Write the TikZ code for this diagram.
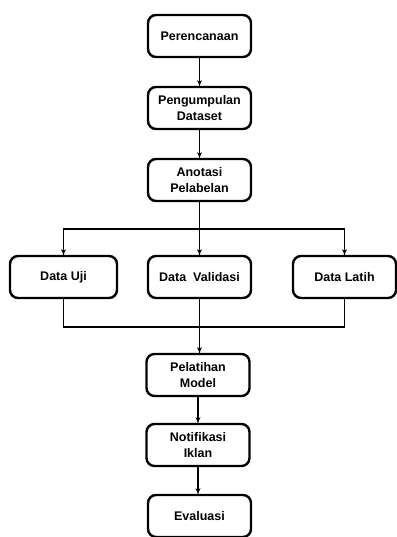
\documentclass[tikz,border=0pt]{standalone}
\usepackage{fontspec}
\setmainfont{Liberation Sans}
\usetikzlibrary{shapes,arrows,positioning,calc}

\begin{document}
\begin{tikzpicture}[x=1pt, y=1pt, node distance=28pt, >=latex',
    every text node part/.style={align=center},
    box/.style={draw, rectangle, rounded corners=8pt, line width=2.4pt, minimum width=103pt, minimum height=42pt, inner sep=2pt, outer sep=0pt, font=\fontsize{12.5}{16}\selectfont\bfseries},
    link/.style={line width=1.3pt}]
    \useasboundingbox (0,0) rectangle (396,-537);

    \node [box] (p1) at (199.5,-36) {Perencanaan};
    \node [box] (p2) at (199.5,-108) {Pengumpulan\\Dataset};
    \node [box] (p3) at (199.5,-180) {Anotasi\\Pelabelan};
    \node [box] (val) at (199.5,-277) {Data\ \ Validasi};
    \node [box, minimum width=107pt, left=31pt of val] (uji) {Data Uji};
    \node [box, right=42pt of val] (lat) {Data Latih};
    \node [box] (p4) at (198,-375) {Pelatihan\\Model};
    \node [box] (p5) at (198,-445) {Notifikasi\\Iklan};
    \node [box] (p6) at (199.5,-516) {Evaluasi};

    % pembagian data
    \coordinate (split) at (199.5,-229);
    \coordinate (join) at (199.5,-327);

    \draw [link, ->] (p1) -- (p2);
    \draw [link, ->] (p2) -- (p3);
    \draw [link, ->] (p3) -- (val);
    \draw [link, ->] (split) -| (uji);
    \draw [link, ->] (split) -| (lat);
    \draw [link] (uji) |- (join);
    \draw [link] (lat) |- (join);
    \draw [link, ->] (val) -- (p4.north -| val);
    \draw [link, ->] (p4) -- (p5);
    \draw [link, ->] (p5) -- (p6.north -| p5);
\end{tikzpicture}
\end{document}
